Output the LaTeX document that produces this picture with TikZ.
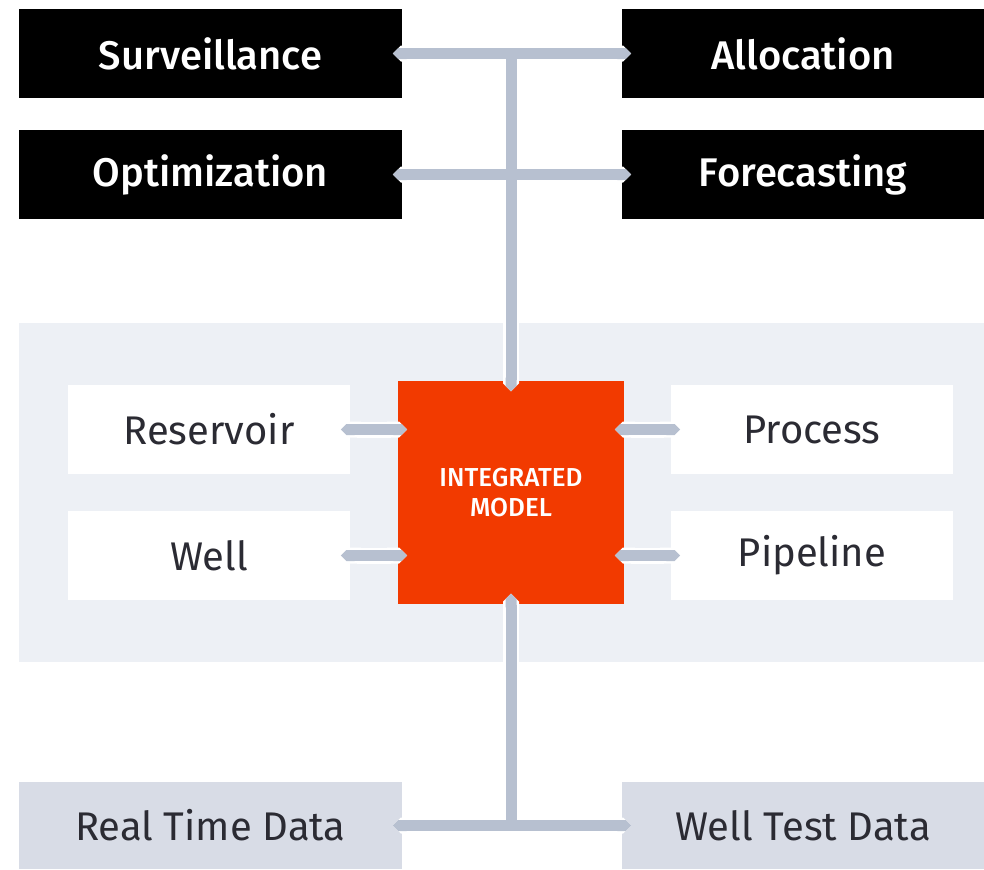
\documentclass[tikz,border=0pt]{standalone}
\usepackage{fontspec}
\setmainfont{Fira Sans}
\newfontfamily\mediumfont{Fira Sans Medium}
\usetikzlibrary{arrows.meta,positioning,calc}
\definecolor{modelorange}{HTML}{F23A00}
\definecolor{panelgray}{HTML}{EDF0F5}
\definecolor{datagray}{HTML}{D8DCE6}
\definecolor{linkgray}{HTML}{B7C0D0}
\definecolor{textdark}{HTML}{2B2B33}

\begin{document}
\begin{tikzpicture}[x=0.75pt, y=-0.75pt,
    appbox/.style={fill=black, text=white, inner sep=0pt,
      minimum height=66.75pt, font=\fontsize{30}{34}\selectfont\mediumfont},
    partbox/.style={fill=white, text=textdark, inner sep=0pt,
      minimum width=211.5pt, minimum height=66.75pt, font=\fontsize{30}{34}\selectfont},
    databox/.style={fill=datagray, text=textdark, inner sep=0pt,
      minimum height=65.25pt, font=\fontsize{30}{34}\selectfont},
    halo/.style={draw=white, line width=12pt},
    link/.style={draw=linkgray, line width=8.25pt},
    both tips/.style={{Triangle Cap}-{Triangle Cap}, shorten <=-7pt, shorten >=-7pt},
    end tip/.style={-{Triangle Cap}, shorten >=-8pt}]
  \useasboundingbox (0,0) rectangle (984,869);

  % model panel
  \fill[panelgray] (19,323) rectangle (984,662);

  % applications
  \node[appbox, minimum width=287.25pt] (sur) at (210.5,53.5) {Surveillance};
  \node[appbox, minimum width=271.5pt] (alloc) at (803,53.5) {Allocation};
  \node[appbox, minimum width=287.25pt] (opt) at (210.5,174.5) {Optimization};
  \node[appbox, minimum width=271.5pt] (fore) at (803,174.5) {Forecasting};

  % integrated model and its parts
  \node[fill=modelorange, text=white, inner sep=0pt, minimum width=169.5pt,
        minimum height=167.25pt, align=center,
        font=\fontsize{19.5}{22.5}\selectfont\mediumfont] (model) at (511,492.5)
        {INTEGRATED\\MODEL};
  \node[partbox] (res) at (209,429.5) {Reservoir};
  \node[partbox] (well) at (209,555.5) {Well};
  \node[partbox] (proc) at (812,429.5) {Process};
  \node[partbox] (pipe) at (812,555.5) {Pipeline};

  % data sources
  \node[databox, minimum width=287.25pt] (rtd) at (210.5,825.5) {Real Time Data};
  \node[databox, minimum width=271.5pt] (wtd) at (803,825.5) {Well Test Data};

  \coordinate (topj) at (model.north |- sur.east);
  \coordinate (botj) at (model.south |- rtd.east);

  % connectors, white halo first
  \foreach \lay in {halo,link} {
    \draw[\lay, both tips] (sur.east) -- (alloc.west);
    \draw[\lay, both tips] (opt.east) -- (fore.west);
    \draw[\lay, end tip] (topj) -- (model.north);
    \draw[\lay, both tips] (res.east) -- (res.east -| model.west);
    \draw[\lay, both tips] (well.east) -- (well.east -| model.west);
    \draw[\lay, both tips] (proc.west) -- (proc.west -| model.east);
    \draw[\lay, both tips] (pipe.west) -- (pipe.west -| model.east);
    \draw[\lay, end tip] (botj) -- (model.south);
    \draw[\lay, both tips] (rtd.east) -- (wtd.west);
  }
\end{tikzpicture}
\end{document}
